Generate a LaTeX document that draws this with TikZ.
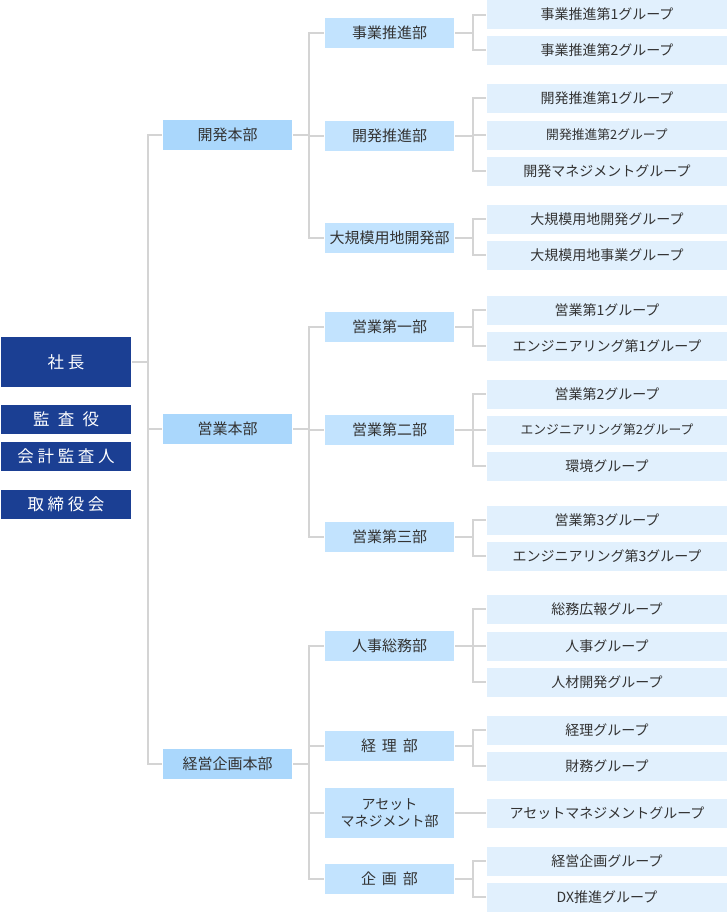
\documentclass[tikz,border=0pt]{standalone}
\usepackage{fontspec}
\newfontfamily\jp{Noto Sans CJK JP}
\usepackage{tikz}
\usetikzlibrary{calc}
\definecolor{topblue}{HTML}{1B3F93}
\definecolor{hqblue}{HTML}{AAD7FC}
\definecolor{deptblue}{HTML}{C2E3FE}
\definecolor{grpblue}{HTML}{E1F0FD}
\definecolor{linegray}{HTML}{D4D4D4}
\definecolor{txtgray}{HTML}{333333}
\newcommand{\gap}{\hspace{0.22em}}

\begin{document}
\begin{tikzpicture}[x=1pt,y=-1pt]
                \useasboundingbox (0,0) rectangle (726,913);
                \begin{scope}[line width=2pt,
                  top node/.style={rectangle,fill=topblue,text=white,inner sep=0pt,minimum width=130pt,minimum height=29pt,anchor=west,font=\jp\fontsize{16.5}{18}\selectfont},
                  hq node/.style={rectangle,fill=hqblue,text=txtgray,inner sep=0pt,minimum width=129pt,minimum height=30pt,anchor=west,font=\jp\fontsize{15}{17}\selectfont},
                  dept node/.style={hq node,fill=deptblue,minimum width=129pt,align=center,font=\jp\fontsize{15}{16}\selectfont},
                  grp node/.style={rectangle,fill=grpblue,text=txtgray,inner sep=0pt,minimum width=240pt,minimum height=29pt,anchor=west,font=\jp\fontsize{14}{16}\selectfont},
                  small/.style={font=\jp\fontsize{12.8}{15}\selectfont},
                  line/.style={draw=linegray}]
                % left column
                \node[top node,minimum height=50pt] (ceo) at (0,362) {社\gap 長};
                \node[top node] (audit) at (0,419.5) {監\hspace{0.5em}査\hspace{0.5em}役};
                \node[top node] (acct) at (0,456) {会\gap 計\gap 監\gap 査\gap 人};
                \node[top node] (board) at (0,504) {取\gap 締\gap 役\gap 会};
                % headquarters
                \node[hq node] (h1) at (162,135) {開発本部};
                \node[hq node] (h2) at (162,429) {営業本部};
                \node[hq node] (h3) at (162,764) {経営企画本部};
                % departments
                \node[dept node] (d1) at (324,33) {事業推進部};
                \node[dept node] (d2) at (324,136) {開発推進部};
                \node[dept node] (d3) at (324,238) {大規模用地開発部};
                \node[dept node] (d4) at (324,327) {営業第一部};
                \node[dept node] (d5) at (324,430) {営業第二部};
                \node[dept node] (d6) at (324,537) {営業第三部};
                \node[dept node] (d7) at (324,646) {人事総務部};
                \node[dept node] (d8) at (324,746) {経\hspace{0.4em}理\hspace{0.4em}部};
                \node[dept node,minimum height=50pt,font=\jp\fontsize{14}{17}\selectfont] (d9) at (324,813) {アセット\\マネジメント部};
                \node[dept node] (d10) at (324,879) {企\hspace{0.4em}画\hspace{0.4em}部};
                % groups
                \node[grp node] (g1) at (486,14.5) {事業推進第1グループ};
                \node[grp node] (g2) at (486,50) {事業推進第2グループ};
                \node[grp node] (g3) at (486,98) {開発推進第1グループ};
                \node[grp node,small] (g4) at (486,135) {開発推進第2グループ};
                \node[grp node] (g5) at (486,171) {開発マネジメントグループ};
                \node[grp node] (g6) at (486,219) {大規模用地開発グループ};
                \node[grp node] (g7) at (486,255) {大規模用地事業グループ};
                \node[grp node] (g8) at (486,310) {営業第1グループ};
                \node[grp node] (g9) at (486,346) {エンジニアリング第1グループ};
                \node[grp node] (g10) at (486,394) {営業第2グループ};
                \node[grp node,small] (g11) at (486,430) {エンジニアリング第2グループ};
                \node[grp node] (g12) at (486,466) {環境グループ};
                \node[grp node] (g13) at (486,520) {営業第3グループ};
                \node[grp node] (g14) at (486,556) {エンジニアリング第3グループ};
                \node[grp node] (g15) at (486,609) {総務広報グループ};
                \node[grp node] (g16) at (486,646) {人事グループ};
                \node[grp node] (g17) at (486,682) {人材開発グループ};
                \node[grp node] (g18) at (486,730) {経理グループ};
                \node[grp node] (g19) at (486,766) {財務グループ};
                \node[grp node] (g20) at (486,813) {アセットマネジメントグループ};
                \node[grp node] (g21) at (486,861) {経営企画グループ};
                \node[grp node] (g22) at (486,897) {DX推進グループ};
                % connectors
                \foreach \c in {h1,h2,h3}
                  \draw[line] (ceo.east) -- ++(16,0) |- (\c.west);
                \foreach \c in {d1,d2,d3}
                  \draw[line] (h1.east) -- ++(16,0) |- (\c.west);
                \foreach \c in {d4,d5,d6}
                  \draw[line] (h2.east) -- ++(16,0) |- (\c.west);
                \foreach \c in {d7,d8,d9,d10}
                  \draw[line] (h3.east) -- ++(16,0) |- (\c.west);
                \foreach \p/\c in {d1/g1,d1/g2,d2/g3,d2/g4,d2/g5,d3/g6,d3/g7,d4/g8,d4/g9,d5/g10,d5/g11,d5/g12,d6/g13,d6/g14,d7/g15,d7/g16,d7/g17,d8/g18,d8/g19,d9/g20,d10/g21,d10/g22}
                  \draw[line] (\p.east) -- ++(18,0) |- (\c.west);
                \end{scope}
            \end{tikzpicture}
\end{document}
